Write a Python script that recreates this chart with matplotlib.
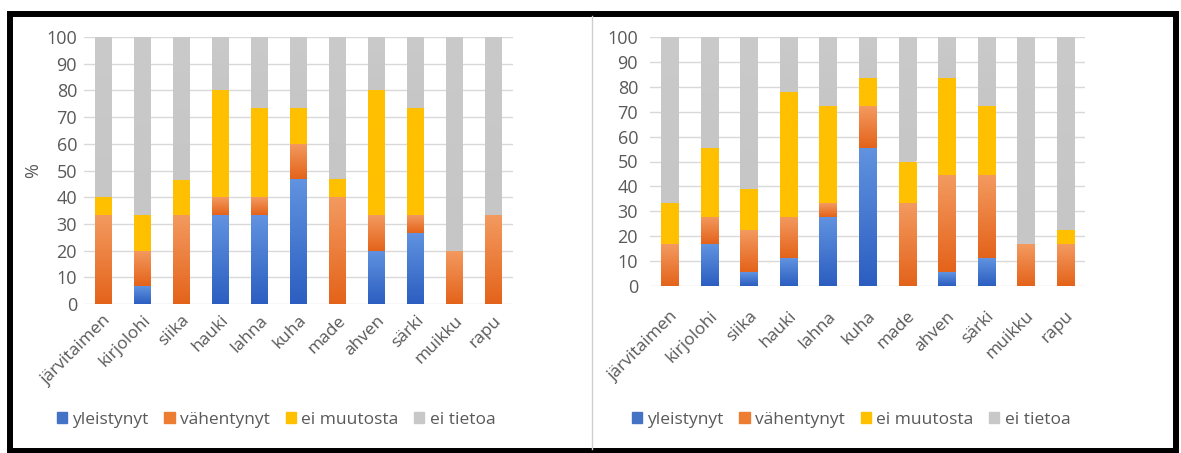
import numpy as np
import matplotlib
matplotlib.use("Agg")
import matplotlib.pyplot as plt
from matplotlib.colors import LinearSegmentedColormap
from matplotlib.patches import Rectangle
from matplotlib.lines import Line2D

plt.rcParams['font.family'] = ['Open Sans', 'DejaVu Sans']

categories = ["järvitaimen", "kirjolohi", "siika", "hauki", "lahna", "kuha",
              "made", "ahven", "särki", "muikku", "rapu"]
series_names = ["yleistynyt", "vähentynyt", "ei muutosta", "ei tietoa"]

# left chart (%)
left_yleistynyt = [0, 6.7, 0, 33.3, 33.3, 46.7, 0, 20.0, 26.7, 0, 0]
left_vahentynyt = [33.3, 13.3, 33.3, 6.7, 6.7, 13.3, 40.0, 13.3, 6.7, 20.0, 33.3]
left_ei_muutosta = [6.7, 13.3, 13.3, 40.0, 33.3, 13.3, 6.7, 46.7, 40.0, 0, 0]
left_ei_tietoa = [60.0, 66.7, 53.3, 20.0, 26.7, 26.7, 53.3, 20.0, 26.7, 80.0, 66.7]

# right chart (%)
right_yleistynyt = [0, 16.7, 5.6, 11.1, 27.8, 55.6, 0, 5.6, 11.1, 0, 0]
right_vahentynyt = [16.7, 11.1, 16.7, 16.7, 5.6, 16.7, 33.3, 38.9, 33.3, 16.7, 16.7]
right_ei_muutosta = [16.7, 27.8, 16.7, 50.0, 38.9, 11.1, 16.7, 38.9, 27.8, 0, 5.6]
right_ei_tietoa = [66.7, 44.4, 61.1, 22.2, 27.8, 16.7, 50.0, 16.7, 27.8, 83.3, 77.8]

yticks = list(range(0, 101, 10))

W, H = 1181, 453
fig = plt.figure(figsize=(W / 100, H / 100), dpi=100)

def px_axes(x0, y0, x1, y1):
    return fig.add_axes([x0 / W, 1 - y1 / H, (x1 - x0) / W, (y1 - y0) / H])

grads = [("#6193E0", "#2B5EC0"), ("#F39A60", "#E4631A"),
         ("#FFC000", "#FFC000"), ("#CACACA", "#C6C6C6")]
flat = ["#4472C4", "#ED7D31", "#FFC000", "#C8C8C8"]
tc = "#595959"

def draw(ax, data, width, xpad, ypad, ylabel):
    x = np.arange(len(categories))
    bottom = np.zeros(len(categories))
    for vals, (light, dark), fc in zip(data, grads, flat):
        vals = np.array(vals, dtype=float)
        bars = ax.bar(x, vals, width, bottom=bottom, color=fc, zorder=2, linewidth=0)
        cmap = LinearSegmentedColormap.from_list("g", [dark, light])
        for p in bars:
            h = p.get_height()
            if h <= 0:
                continue
            x0, y0, w = p.get_x(), p.get_y(), p.get_width()
            img = np.linspace(0, 1, 128).reshape(-1, 1)
            im = ax.imshow(img, extent=[x0, x0 + w, y0, y0 + h], origin="lower",
                           cmap=cmap, aspect="auto", zorder=3, interpolation="bilinear")
            im.set_clip_path(p)
        bottom += vals
    ax.set_xlim(-0.5, len(categories) - 0.5)
    ax.set_ylim(0, 100)
    ax.set_aspect("auto")
    ax.set_yticks(yticks)
    ax.set_yticklabels([str(t) for t in yticks], color=tc, fontsize=13)
    ax.set_xticks(x)
    ax.set_xticklabels(categories, rotation=45, ha="right", rotation_mode="anchor",
                       color=tc, fontsize=12.5)
    ax.tick_params(axis="y", length=0, pad=ypad)
    ax.tick_params(axis="x", length=0, pad=xpad)
    for s in ax.spines.values():
        s.set_visible(False)
    ax.grid(axis="y", color="#D9D9D9", linewidth=1, zorder=0)
    ax.set_axisbelow(True)
    if ylabel:
        ax.set_ylabel(ylabel, color=tc, fontsize=13)
        ax.yaxis.set_label_coords(-0.098, 0.5)

axL = px_axes(84, 37, 513, 304)
draw(axL, [left_yleistynyt, left_vahentynyt, left_ei_muutosta, left_ei_tietoa],
     0.42, 6, 5, "%")
axR = px_axes(650, 37, 1085, 286)
draw(axR, [right_yleistynyt, right_vahentynyt, right_ei_muutosta, right_ei_tietoa],
     0.43, 16, 8.6, None)

handles = [Rectangle((0, 0), 1, 1, color=c) for c in flat]
for cx in (276, 851):
    fig.legend(handles, series_names, loc="center", bbox_to_anchor=(cx / W, 1 - 420 / H),
               ncol=4, frameon=False, fontsize=12.5, labelcolor=tc,
               handlelength=0.6, handleheight=0.6, handletextpad=0.3, columnspacing=0.9)

# panel divider and outer frame
fig.add_artist(Line2D([592 / W, 592 / W], [1 - 16 / H, 1 - 449 / H],
                      color="#CFCFCF", linewidth=1, transform=fig.transFigure))
fig.add_artist(Rectangle((10 / W, 1 - 451 / H), (1176 - 10) / W, (451 - 13.5) / H,
                         fill=False, edgecolor="black", linewidth=4.3,
                         transform=fig.transFigure))

fig.savefig("out.png", dpi=100)
